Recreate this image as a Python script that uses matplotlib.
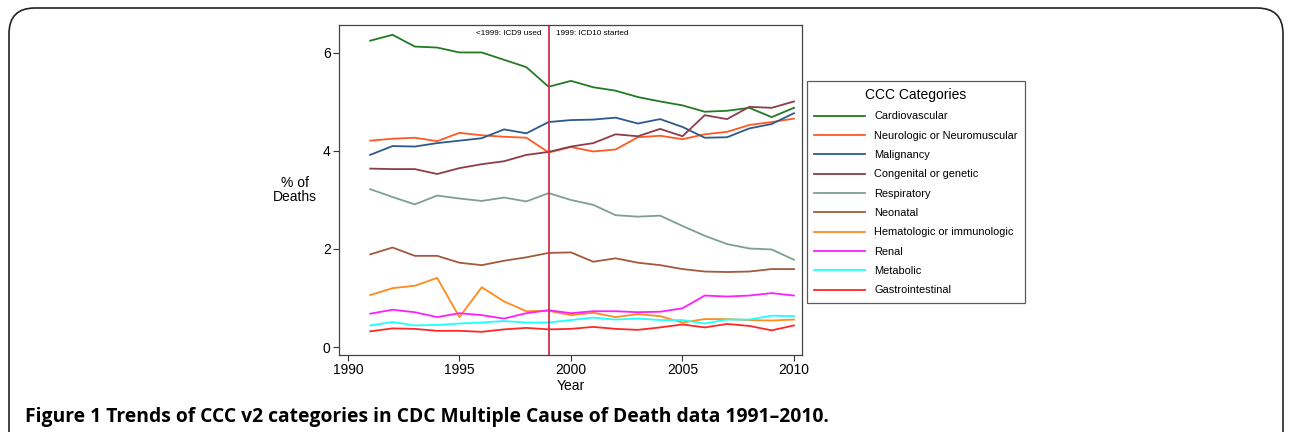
import matplotlib
matplotlib.use("Agg")
import matplotlib.pyplot as plt
from matplotlib.patches import FancyBboxPatch

years = list(range(1991, 2011))

cardiovascular = [6.25, 6.37, 6.13, 6.11, 6.01, 6.01, 5.86, 5.71, 5.31, 5.43,
                  5.30, 5.23, 5.10, 5.01, 4.93, 4.80, 4.82, 4.88, 4.69, 4.88]
neurologic = [4.21, 4.25, 4.27, 4.20, 4.37, 4.32, 4.29, 4.27, 3.97, 4.08,
              3.99, 4.03, 4.28, 4.31, 4.24, 4.34, 4.39, 4.53, 4.59, 4.66]
malignancy = [3.92, 4.10, 4.09, 4.16, 4.21, 4.26, 4.44, 4.36, 4.59, 4.63,
              4.64, 4.68, 4.56, 4.65, 4.49, 4.27, 4.28, 4.46, 4.55, 4.77]
congenital = [3.64, 3.63, 3.63, 3.53, 3.65, 3.73, 3.79, 3.92, 3.98, 4.09,
              4.16, 4.34, 4.30, 4.45, 4.30, 4.73, 4.65, 4.90, 4.88, 5.01]
respiratory = [3.22, 3.06, 2.91, 3.09, 3.03, 2.98, 3.05, 2.97, 3.14, 3.00,
               2.90, 2.69, 2.66, 2.68, 2.47, 2.27, 2.10, 2.01, 1.99, 1.78]
neonatal = [1.89, 2.03, 1.86, 1.86, 1.72, 1.67, 1.76, 1.83, 1.92, 1.93,
            1.74, 1.81, 1.72, 1.67, 1.59, 1.54, 1.53, 1.54, 1.59, 1.59]
hematologic = [1.06, 1.20, 1.25, 1.41, 0.61, 1.22, 0.93, 0.73, 0.74, 0.65,
               0.70, 0.61, 0.67, 0.63, 0.50, 0.57, 0.57, 0.55, 0.54, 0.56]
renal = [0.68, 0.76, 0.71, 0.61, 0.69, 0.65, 0.58, 0.69, 0.75, 0.69,
         0.73, 0.73, 0.71, 0.72, 0.79, 1.05, 1.03, 1.05, 1.10, 1.05]
metabolic = [0.44, 0.51, 0.44, 0.45, 0.48, 0.50, 0.53, 0.50, 0.50, 0.55,
             0.60, 0.56, 0.58, 0.55, 0.55, 0.48, 0.56, 0.56, 0.64, 0.63]
gastrointestinal = [0.32, 0.38, 0.37, 0.33, 0.33, 0.31, 0.36, 0.39, 0.36, 0.37,
                    0.41, 0.37, 0.35, 0.40, 0.46, 0.40, 0.47, 0.43, 0.34, 0.44]

series_names = ["Cardiovascular", "Neurologic or Neuromuscular", "Malignancy",
                "Congenital or genetic", "Respiratory", "Neonatal",
                "Hematologic or immunologic", "Renal", "Metabolic", "Gastrointestinal"]
series_values = [cardiovascular, neurologic, malignancy, congenital, respiratory,
                 neonatal, hematologic, renal, metabolic, gastrointestinal]
series_colors = ["#237a23", "#ff5a23", "#2c5a8c", "#8c3c4a", "#7f9f8f",
                 "#a35a3c", "#ff8a1e", "#ff1eff", "#1effff", "#ff2828"]

x_ticks = [1990, 1995, 2000, 2005, 2010]
y_ticks = [0, 2, 4, 6]
icd_change_year = 1999

plt.rcParams['font.family'] = ['Liberation Sans', 'DejaVu Sans']

fig = plt.figure(figsize=(12.92, 4.32), dpi=100)
W, H = 1292, 432

# outer rounded frame
frame = FancyBboxPatch((9 / W, -0.2), (1283 - 9) / W, (H - 8) / H + 0.2,
                       boxstyle="round,pad=0,rounding_size=0.02",
                       transform=fig.transFigure, fill=False,
                       edgecolor="#222222", linewidth=1.2, mutation_aspect=W / H)
fig.patches.append(frame)

ax = fig.add_axes([339 / W, 1 - 355 / H, (802 - 339) / W, (355 - 25) / H])

for name, vals, col in zip(series_names, series_values, series_colors):
    ax.plot(years, vals, color=col, linewidth=1.3, label=name)

ax.axvline(icd_change_year, color="#d2304f", linewidth=1.3)

ax.set_xlim(1989.6, 2010.36)
ax.set_ylim(-0.163, 6.57)
ax.set_xticks(x_ticks)
ax.set_yticks(y_ticks)
ax.tick_params(direction="out", length=4, width=0.8, colors="#333333",
               labelsize=10, labelcolor="black", pad=2)
for s in ax.spines.values():
    s.set_color("#444444")
    s.set_linewidth(0.9)

ax.set_xlabel("Year", fontsize=10, labelpad=1)
ax.text(-0.095, 0.50, "% of\nDeaths", transform=ax.transAxes, ha="center",
        va="center", fontsize=10, linespacing=1.0)

ax.text(icd_change_year - 0.33, 6.39, "<1999: ICD9 used", ha="right", va="center",
        fontsize=5.9)
ax.text(icd_change_year + 0.33, 6.39, "1999: ICD10 started", ha="left", va="center",
        fontsize=5.9)

leg = ax.legend(loc="upper left", bbox_to_anchor=(807 / W, 1 - 81 / H),
                bbox_transform=fig.transFigure, title="CCC Categories",
                fontsize=7.9, title_fontsize=10, frameon=True, fancybox=False,
                edgecolor="#333333", handlelength=4.6, handletextpad=0.9,
                labelspacing=0.85, borderpad=0.65, borderaxespad=0)
leg.get_frame().set_linewidth(0.9)

fig.text(25 / W, 1 - 417 / H,
         "Figure 1 Trends of CCC v2 categories in CDC Multiple Cause of Death data 1991\u20132010.",
         ha="left", va="center", fontsize=13.9, fontweight="bold",
         family=["Open Sans", "DejaVu Sans"])

fig.savefig("out.png", dpi=100)
